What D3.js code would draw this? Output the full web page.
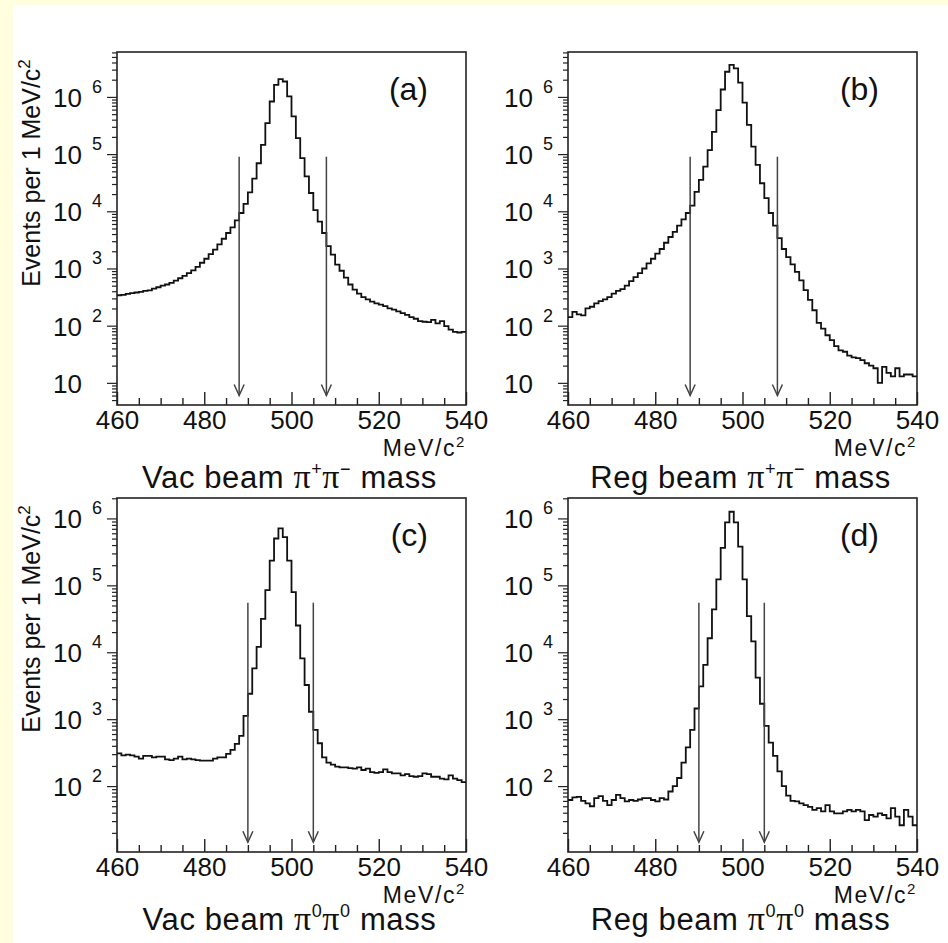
<!DOCTYPE html>
<html>
<head>
<meta charset="utf-8">
<script src="https://cdn.jsdelivr.net/npm/d3@7"></script>
<style>
  body { margin: 0; background: #ffffdf; }
  svg { display: block; }
  text { font-family: "Liberation Sans", Arial, sans-serif; fill: #111; }
</style>
</head>
<body>
<svg id="chart" width="948" height="943"></svg>
<script>
// bin lower edges, 1 MeV/c^2 bins from 460 to 540
const binEdges = d3.range(460, 541);
const xTicks = [460, 480, 500, 520, 540];
const xMinorTicks = d3.range(460, 541, 5);

// events per bin
const vacChargedCounts = [
  340, 345, 360, 370, 380, 390, 405, 415, 445, 470,
  500, 525, 560, 615, 675, 740, 830, 930, 1070, 1260,
  1480, 1780, 2140, 2630, 3310, 4170, 5250, 6920, 9330, 13500,
  21400, 37200, 69200, 145000, 347000, 832000, 1620000, 2040000, 1860000, 1020000,
  457000, 191000, 85100, 40700, 20900, 10500, 6610, 4170, 2450, 1740,
  1170, 912, 692, 525, 427, 363, 316, 288, 263, 245,
  234, 219, 200, 191, 178, 166, 155, 141, 132, 120,
  117, 115, 126, 110, 120, 98, 85, 78, 76, 78
];
const regChargedCounts = [
  141, 174, 158, 151, 200, 214, 245, 269, 288, 316,
  363, 407, 437, 501, 603, 708, 832, 1000, 1230, 1480,
  1820, 2190, 2820, 3550, 4370, 5620, 7240, 9330, 12600, 21900,
  35500, 60300, 117500, 245500, 589000, 1349000, 2754000, 3631000, 3162000, 1778000,
  794000, 324000, 134900, 64600, 30900, 17000, 9330, 5620, 3390, 2190,
  1585, 1175, 871, 617, 417, 282, 186, 112, 89, 68,
  56, 44, 37, 35, 30, 28, 27, 25, 22, 20,
  18, 10, 19, 15, 13, 18, 13, 14, 14, 13
];
const vacNeutralCounts = [
  309, 288, 295, 288, 275, 257, 282, 282, 269, 275,
  275, 251, 245, 257, 275, 251, 257, 251, 245, 240,
  240, 240, 257, 269, 269, 302, 347, 427, 562, 1120,
  2400, 5750, 12000, 31600, 85100, 234000, 501000, 708000, 525000, 234000,
  79400, 25100, 8130, 3240, 1290, 692, 437, 269, 224, 209,
  195, 191, 191, 186, 182, 191, 174, 182, 162, 158,
  162, 178, 162, 155, 155, 145, 151, 141, 138, 141,
  155, 151, 138, 138, 129, 126, 145, 129, 123, 115
];
const regNeutralCounts = [
  62, 68, 69, 60, 55, 50, 66, 71, 60, 52,
  62, 74, 66, 59, 62, 60, 63, 66, 66, 62,
  59, 66, 63, 83, 100, 132, 224, 380, 692, 1445,
  3090, 6460, 16200, 43700, 123000, 363000, 871000, 1259000, 871000, 380000,
  123000, 34700, 14500, 4170, 1700, 794, 447, 282, 166, 100,
  72, 60, 59, 55, 52, 49, 44, 47, 42, 52,
  42, 39, 39, 42, 44, 42, 44, 42, 31, 37,
  35, 39, 37, 33, 47, 35, 26, 44, 35, 26
];

// selection cuts (arrows), MeV/c^2
const chargedCuts = [488, 508];
const neutralCuts = [490, 505];
// arrow extent in events
const chargedArrowSpan = [9e4, 6];
const neutralArrowSpan = [5.5e4, 14.5];

const chargedYDomain = [4.1, 6.1e6];
const neutralYDomain = [10.35, 2.02e6];

const panels = [
  { tag: "(a)", counts: vacChargedCounts, cuts: chargedCuts, arrow: chargedArrowSpan,
    yDomain: chargedYDomain, left: 117, top: 52, bottom: 405, yLabel: true,
    title: ["Vac beam ", "+", "−"], titleBase: 488 },
  { tag: "(b)", counts: regChargedCounts, cuts: chargedCuts, arrow: chargedArrowSpan,
    yDomain: chargedYDomain, left: 568, top: 52, bottom: 405, yLabel: false,
    title: ["Reg beam ", "+", "−"], titleBase: 488 },
  { tag: "(c)", counts: vacNeutralCounts, cuts: neutralCuts, arrow: neutralArrowSpan,
    yDomain: neutralYDomain, left: 117, top: 498, bottom: 852, yLabel: true,
    title: ["Vac beam ", "0", "0"], titleBase: 930 },
  { tag: "(d)", counts: regNeutralCounts, cuts: neutralCuts, arrow: neutralArrowSpan,
    yDomain: neutralYDomain, left: 568, top: 498, bottom: 852, yLabel: false,
    title: ["Reg beam ", "0", "0"], titleBase: 930 }
];
const frameWidth = 349;

const svg = d3.select("#chart");
svg.append("rect").attr("x", 13).attr("y", 5).attr("width", 935).attr("height", 938).attr("fill", "#fff");

panels.forEach(p => {
  const right = p.left + frameWidth;
  const x = d3.scaleLinear().domain([460, 540]).range([p.left, right]);
  const y = d3.scaleLog().domain(p.yDomain).range([p.bottom, p.top]);
  const g = svg.append("g");

  // x axis: ticks point into the frame
  const xMajor = g.append("g").attr("transform", `translate(0,${p.bottom})`)
    .call(d3.axisBottom(x).tickValues(xTicks).tickSize(-13).tickPadding(6).tickFormat(d3.format("d")));
  const xMinor = g.append("g").attr("transform", `translate(0,${p.bottom})`)
    .call(d3.axisBottom(x).tickValues(xMinorTicks.filter(v => !xTicks.includes(v))).tickSize(-7).tickFormat(""));
  [xMajor, xMinor].forEach(a => {
    a.select(".domain").remove();
    a.selectAll("line").attr("stroke", "#222").attr("stroke-width", 1.4);
  });
  xMajor.selectAll("text").attr("font-size", 26).attr("fill", "#111")
    .style("font-family", "Liberation Sans, Arial, sans-serif");

  // y axis: log decades, ticks point outward
  const decades = d3.range(0, 8).filter(d => Math.pow(10, d) >= p.yDomain[0] && Math.pow(10, d) <= p.yDomain[1]);
  const minors = [];
  d3.range(0, 8).forEach(d => {
    d3.range(2, 10).forEach(k => {
      const v = k * Math.pow(10, d);
      if (v >= p.yDomain[0] && v <= p.yDomain[1]) minors.push(v);
    });
  });
  const yMajor = g.append("g").attr("transform", `translate(${p.left},0)`)
    .call(d3.axisLeft(y).tickValues(decades.map(d => Math.pow(10, d))).tickSize(10).tickFormat(""));
  const yMinor = g.append("g").attr("transform", `translate(${p.left},0)`)
    .call(d3.axisLeft(y).tickValues(minors).tickSize(5).tickFormat(""));
  [yMajor, yMinor].forEach(a => {
    a.select(".domain").remove();
    a.selectAll("line").attr("stroke", "#222").attr("stroke-width", 1.2);
  });
  decades.forEach(d => {
    const ty = y(Math.pow(10, d));
    g.append("text").attr("x", p.left - 35).attr("y", ty + 10)
      .attr("text-anchor", "end").attr("font-size", 26).text("10");
    if (d > 1) {
      g.append("text").attr("x", p.left - 25).attr("y", ty - 4)
        .attr("font-size", 18).text(d);
    }
  });

  // frame
  g.append("rect").attr("x", p.left).attr("y", p.top)
    .attr("width", frameWidth).attr("height", p.bottom - p.top)
    .attr("fill", "none").attr("stroke", "#222").attr("stroke-width", 1.6);

  // histogram outline
  const pts = p.counts.map((c, i) => [binEdges[i], c]);
  pts.push([binEdges[80], p.counts[79]]);
  const line = d3.line().x(d => x(d[0])).y(d => y(d[1])).curve(d3.curveStepAfter);
  g.append("path").attr("d", line(pts)).attr("fill", "none")
    .attr("stroke", "#111").attr("stroke-width", 1.8);

  // cut arrows
  p.cuts.forEach(c => {
    const ax = x(c), y0 = y(p.arrow[0]), y1 = y(p.arrow[1]);
    g.append("line").attr("x1", ax).attr("x2", ax).attr("y1", y0).attr("y2", y1)
      .attr("stroke", "#444").attr("stroke-width", 1.5);
    g.append("path").attr("d", `M${ax - 5},${y1 - 11}L${ax},${y1}L${ax + 5},${y1 - 11}`)
      .attr("fill", "none").attr("stroke", "#444").attr("stroke-width", 1.5);
  });

  // panel tag
  g.append("text").attr("x", right - 38).attr("y", p.top + 48)
    .attr("text-anchor", "end").attr("font-size", 32).text(p.tag);

  // unit label
  const unit = g.append("text").attr("x", right).attr("y", p.bottom + 51)
    .attr("text-anchor", "end").attr("font-size", 23).attr("letter-spacing", 1.6);
  unit.append("tspan").text("MeV/c");
  unit.append("tspan").attr("dy", -9).attr("font-size", 15).text("2");

  // title
  const t = g.append("text").attr("x", (p.left + right) / 2 - 2).attr("y", p.titleBase)
    .attr("text-anchor", "middle").attr("font-size", 31).attr("letter-spacing", 0.6);
  t.append("tspan").text(p.title[0]);
  t.append("tspan").style("font-family", "Liberation Serif, serif").attr("font-size", 34).text("π");
  t.append("tspan").attr("dy", -13).attr("font-size", 18).text(p.title[1]);
  t.append("tspan").attr("dy", 13).style("font-family", "Liberation Serif, serif").attr("font-size", 34).text("π");
  t.append("tspan").attr("dy", -13).attr("font-size", 18).text(p.title[2]);
  t.append("tspan").attr("dy", 13).text(" mass");

  // y axis title
  if (p.yLabel) {
    const cy = p.top + 121;
    const yl = g.append("text").attr("transform", `translate(40,${cy}) rotate(-90)`)
      .attr("text-anchor", "middle").attr("font-size", 25);
    yl.append("tspan").text("Events per 1 MeV/c");
    yl.append("tspan").attr("dy", -10).attr("font-size", 17).text("2");
  }
});
</script>
</body>
</html>
